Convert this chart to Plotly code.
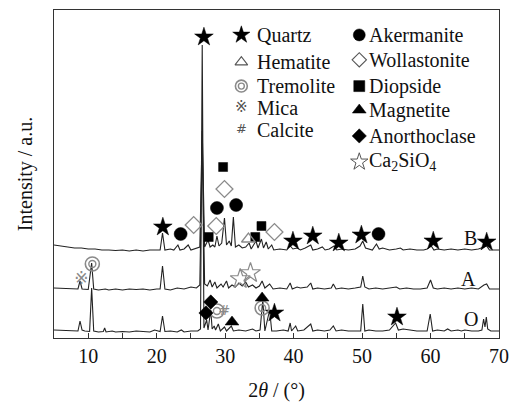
import plotly.graph_objects as go

# ---------------- data (2theta in degrees, intensity in a.u.) ----------------
o_x = [5.0, 6, 7, 8, 8.5, 8.8, 9.1, 9.5, 10.2, 10.5, 10.8, 11.5, 12.2, 12.4, 12.6, 13.5, 14.0, 15, 16, 17, 18, 19,
       19.7, 20.5, 20.85, 21.2, 22, 23, 23.6, 24, 25, 26, 26.4, 26.65, 26.9, 27.3, 27.5, 27.9, 28.1, 28.4, 28.6, 29,
       29.3, 29.9, 30.2, 30.9, 31.2, 32, 33, 34, 34.5, 35.1, 35.5, 35.8, 36.5, 36.8, 37.5, 38.5, 39.2, 39.5, 39.7,
       40.3, 40.6, 41.5, 42.5, 42.8, 43.5, 44.5, 45.3, 45.8, 46.2, 47, 48, 49, 49.8, 50.1, 50.4, 51, 52, 53, 54, 54.9,
       55.3, 56, 57, 58, 59.5, 59.95, 60.3, 61, 62, 62.5, 63, 64, 64.5, 65, 66, 67, 67.5, 67.75, 67.95, 68.15, 68.35,
       68.8, 70]
o_y = [2, 1.5, 1, 0.5, 1, 11, 2, 1, 0.5, 44, 1, 0, 0.5, 4, 0, 1, 0, 0.5, 0, 1, 0.5, 0,
       2, 0.5, 16, 0.5, 1, 0, 2, 0, 1, 1, 3, 287, 4, 12, 2, 22, 3, 6, 2, 8,
       1, 5, 1, 6, 1, 2, 1, 3, 1, 2, 32, 1, 22, 1, 1, 2, 1, 9, 1,
       6, 1, 2, 8, 1, 2, 1, 2, 6, 1, 2, 1, 1, 1, 28, 1, 2, 1, 1, 2, 9,
       2, 3, 2, 1, 1, 18, 1, 2, 1, 3, 1, 2, 1, 2, 1, 1, 2, 13, 5, 15, 3,
       1, 1]

a_x = [5, 6, 7, 8, 8.5, 8.8, 9.1, 10, 10.5, 10.8, 11.5, 12.5, 13, 14, 15, 16, 17, 18, 19, 20, 20.5, 20.85, 21.2,
       22, 23, 24, 25, 25.8, 26.3, 26.65, 27, 27.4, 27.8, 28.1, 28.5, 28.8, 29.4, 29.7, 30.2, 30.5, 31, 31.5, 32,
       32.5, 33, 33.4, 34, 34.5, 35, 35.4, 35.8, 36.5, 37, 38, 39, 39.5, 39.8, 40.5, 41, 42, 42.5, 42.8, 43.5, 44.5,
       45.5, 45.8, 46.2, 47, 48, 49, 49.8, 50.1, 50.4, 51, 52, 53, 54, 55, 55.5, 56.5, 57.5, 58.5, 59.5, 60, 60.4,
       61, 62, 63, 64, 65, 66, 67, 67.8, 68.2, 68.6, 70]
a_y = [2, 1.5, 1, 0.5, 1, 9, 1, 0.5, 27, 1, 0, 1, 0, 1, 0, 1, 0.5, 1, 0, 1, 1, 24, 1,
       0, 2, 1, 3, 2, 5, 150, 6, 4, 10, 3, 8, 2, 6, 3, 9, 2, 5, 3, 7,
       4, 8, 3, 5, 2, 4, 9, 2, 6, 1, 2, 1, 7, 1, 3, 2, 3, 7, 1, 2, 1,
       2, 6, 1, 2, 1, 2, 3, 14, 3, 1, 2, 1, 2, 3, 1, 2, 1, 1, 2, 10, 2,
       1, 2, 1, 2, 1, 2, 1, 5, 6, 1, 1]

b_x = [5, 6, 7, 8, 9, 10, 11, 12, 13, 14, 15, 16, 17, 18, 19, 20, 20.5, 20.85, 21.2, 22, 22.5, 23.1, 23.4, 24,
       24.6, 25, 25.8, 26.3, 26.65, 27, 27.5, 27.8, 28.2, 28.5, 28.8, 29.1, 29.5, 29.9, 30.2, 30.6, 30.9, 31.2,
       31.5, 32, 32.5, 33, 33.5, 33.8, 34.5, 34.8, 35.3, 35.6, 36, 36.3, 36.8, 37.1, 38, 39, 39.5, 39.9, 40.5, 41,
       41.7, 42.5, 42.8, 43.5, 44.2, 44.6, 45.2, 45.9, 46.3, 47, 48, 49, 49.7, 50.1, 50.5, 51, 51.5, 52.1, 52.5, 53,
       54, 55, 55.6, 56, 57, 58, 59, 59.5, 60.1, 60.5, 61, 62, 63, 64, 65, 66, 67, 67.8, 68.2, 68.6, 70]
b_y = [6, 5, 4, 3, 3, 2, 2, 1, 1, 0.5, 1, 0, 1, 0, 1, 1, 1, 18, 1, 2, 1, 6, 1, 2,
       6, 1, 3, 4, 120, 4, 11, 4, 6, 4, 15, 5, 8, 33, 6, 10, 5, 34,
       4, 6, 3, 4, 8, 2, 10, 3, 12, 3, 9, 2, 6, 1, 2, 1, 5, 2, 3, 1,
       3, 6, 1, 2, 4, 1, 2, 5, 1, 2, 1, 2, 5, 10, 3, 2, 1, 7, 2, 3,
       1, 2, 3, 1, 2, 1, 1, 2, 5, 1, 2, 1, 2, 1, 2, 1, 2, 4, 5, 1, 1]

sample_names = ["O", "A", "B"]

# phase marks: 2theta and intensity level of each mark
quartz_x = [26.9, 20.9, 37.2, 55.1, 39.9, 42.8, 46.6, 49.9, 60.4, 68.2]
quartz_y = [301, 111, 25, 21, 97, 102, 95, 103, 97, 96]
akermanite_x = [23.5, 28.8, 31.6, 52.4]
akermanite_y = [104, 130, 133, 104]
wollastonite_x = [25.4, 28.7, 29.9, 37.2]
wollastonite_y = [113, 112, 149, 106]
diopside_x = [27.6, 29.7, 34.4, 35.3]
diopside_y = [101, 171, 101, 112]
hematite_x = [33.4]
hematite_y = [99]
ca2sio4_x = [32.2, 33.7]
ca2sio4_y = [59, 65]
tremolite_x = [10.6, 28.8, 35.4]
tremolite_y = [74, 27, 30]
mica_x = [9.0]
mica_y = [58]
calcite_x = [29.9]
calcite_y = [27]
magnetite_x = [31.0, 35.4]
magnetite_y = [16, 40]
anorthoclase_x = [27.2, 27.9]
anorthoclase_y = [25, 36]

x_tickvals = [10, 20, 30, 40, 50, 60, 70]
x_ticktext = ["10", "20", "30", "40", "50", "60", "70"]

# ---------------- styling / layout constants ----------------
OFFSETS = {"O": 6, "A": 48, "B": 87}
LABEL_POS = {"O": (65.9, 19), "A": (65.6, 59), "B": (65.8, 100)}
FONT = "Liberation Serif, Times New Roman, serif"
GRAY = "#8a8a8a"
DARK = "#222222"

fig = go.Figure()

for name, xs, ys in [("O", o_x, o_y), ("A", a_x, a_y), ("B", b_x, b_y)]:
    fig.add_trace(go.Scatter(x=xs, y=[v + OFFSETS[name] for v in ys], mode="lines",
                             line=dict(color=DARK, width=1.1), showlegend=False, hoverinfo="skip"))
    lx, ly = LABEL_POS[name]
    fig.add_annotation(x=lx, y=ly, text=name, showarrow=False,
                       font=dict(family=FONT, size=20, color="#111"))


def marks(xs, ys, symbol, size, color, lw=1.2, xaxis="x", yaxis="y"):
    fig.add_trace(go.Scatter(x=xs, y=ys, mode="markers", xaxis=xaxis, yaxis=yaxis,
                             marker=dict(symbol=symbol, size=size, color=color,
                                         line=dict(color=color, width=lw)),
                             showlegend=False, hoverinfo="skip"))


def textmarks(xs, ys, txt, size, color, xaxis="x", yaxis="y"):
    fig.add_trace(go.Scatter(x=xs, y=ys, mode="text", text=[txt] * len(xs), xaxis=xaxis, yaxis=yaxis,
                             textfont=dict(family="DejaVu Sans", size=size, color=color),
                             showlegend=False, hoverinfo="skip"))


def tremolite(xs, ys, scale=1.0, xaxis="x", yaxis="y"):
    marks(xs, ys, "circle-open", 14 * scale, GRAY, 1.6, xaxis, yaxis)
    marks(xs, ys, "circle-open", 7 * scale, GRAY, 1.4, xaxis, yaxis)


marks(quartz_x, quartz_y, "star", 14, "black", 0.5)
marks(akermanite_x, akermanite_y, "circle", 13, "black", 0.5)
marks(wollastonite_x, wollastonite_y, "diamond-open", 13, GRAY, 1.3)
marks(diopside_x, diopside_y, "square", 9, "black", 0.5)
marks(hematite_x, hematite_y, "triangle-up-open", 12, GRAY, 1.3)
marks(ca2sio4_x, ca2sio4_y, "star-open", 15, GRAY, 1.2)
tremolite(tremolite_x, tremolite_y)
textmarks(mica_x, mica_y, "※", 17, GRAY)
textmarks(calcite_x, calcite_y, "#", 14, GRAY)
marks(magnetite_x, magnetite_y, "triangle-up", 12, "black", 0.5)
marks(anorthoclase_x, anorthoclase_y, "diamond", 11, "black", 0.5)

# ---------------- in-plot legend (paper-like overlay axes) ----------------
legend_col1 = [("Quartz", 0.924), ("Hematite", 0.841), ("Tremolite", 0.768), ("Mica", 0.701), ("Calcite", 0.634)]
legend_col2 = [("Akermanite", 0.924), ("Wollastonite", 0.848), ("Diopside", 0.768), ("Magnetite", 0.695),
               ("Anorthoclase", 0.616), ("Ca<sub>2</sub>SiO<sub>4</sub>", 0.537)]
C1_SYM, C1_TXT, C2_SYM, C2_TXT = 0.421, 0.452, 0.686, 0.704
ax2 = dict(xaxis="x2", yaxis="y2")
marks([C1_SYM], [0.924], "star", 13, "black", 0.5, **ax2)
marks([C1_SYM], [0.841], "triangle-up-open", 11, "#555", 1.1, **ax2)
tremolite([C1_SYM], [0.768], 0.85, **ax2)
textmarks([C1_SYM], [0.701], "※", 15, "#555", **ax2)
textmarks([C1_SYM], [0.634], "#", 13, "#555", **ax2)
marks([C2_SYM], [0.924], "circle", 12, "black", 0.5, **ax2)
marks([C2_SYM], [0.848], "diamond-open", 11, "#555", 1.1, **ax2)
marks([C2_SYM], [0.768], "square", 11, "black", 0.5, **ax2)
marks([C2_SYM], [0.695], "triangle-up", 12, "black", 0.5, **ax2)
marks([C2_SYM], [0.616], "diamond", 11, "black", 0.5, **ax2)
marks([C2_SYM], [0.537], "star-open", 13, "#555", 1.0, **ax2)
for (t, yy) in legend_col1:
    fig.add_annotation(x=C1_TXT, y=yy, xref="paper", yref="paper", text=t, showarrow=False,
                       xanchor="left", yanchor="middle", font=dict(family=FONT, size=20, color="#111"))
for (t, yy) in legend_col2:
    fig.add_annotation(x=C2_TXT, y=yy, xref="paper", yref="paper", text=t, showarrow=False,
                       xanchor="left", yanchor="middle", font=dict(family=FONT, size=20, color="#111"))

fig.update_layout(
    width=511, height=405,
    margin=dict(l=54, r=12, t=10, b=67),
    paper_bgcolor="white", plot_bgcolor="white",
    font=dict(family=FONT, size=20, color="#111"),
    xaxis=dict(range=[5, 70], tickvals=x_tickvals, ticktext=x_ticktext, ticks="inside", ticklen=5,
               tickwidth=1, tickcolor="#333", showline=True, linecolor="#333", linewidth=1.3, mirror=True,
               minor=dict(ticks="inside", dtick=5, tick0=5, ticklen=5, tickwidth=1, tickcolor="#333"),
               showgrid=False, zeroline=False, tickfont=dict(family=FONT, size=20), automargin=False,
               title=dict(text="2<i>θ</i> / (°)", font=dict(family=FONT, size=20), standoff=16)),
    yaxis=dict(range=[0, 328], showticklabels=False, ticks="", showline=True, linecolor="#333", linewidth=1.3,
               mirror=True, showgrid=False, zeroline=False,
               title=dict(text="Intensity / a.u.", font=dict(family=FONT, size=20), standoff=14)),
    xaxis2=dict(range=[0, 1], overlaying="x", visible=False),
    yaxis2=dict(range=[0, 1], overlaying="y", visible=False),
)

fig.write_html("out.html")
